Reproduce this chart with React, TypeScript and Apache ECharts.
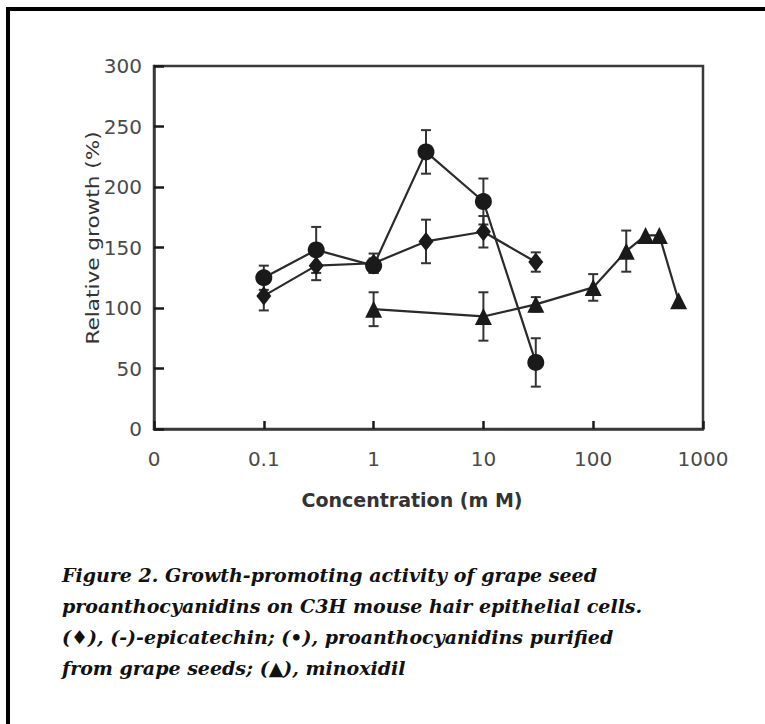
import React, { useEffect, useRef } from "react";
import * as echarts from "echarts";

// Data
const epiX = [0.1, 0.3, 1, 3, 10, 30];
const epiY = [110, 135, 137, 155, 163, 138];
const epiErr = [12, 12, 8, 18, 13, 8];

const proX = [0.1, 0.3, 1, 3, 10, 30];
const proY = [125, 148, 135, 229, 188, 55];
const proErr = [10, 19, 6, 18, 19, 20];

const minoX = [1, 10, 30, 100, 200, 300, 400, 600];
const minoY = [99, 93, 103, 117, 147, 160, 160, 106];
const minoErr = [14, 20, 6, 11, 17, 0, 0, 0];

const yTickInterval = 50;
const xAxisName = "Concentration (m M)";
const yAxisName = "Relative growth (%)";
const captionLines = [
  "Figure 2. Growth-promoting activity of grape seed",
  "proanthocyanidins on C3H mouse hair epithelial cells.",
  "(\u2666), (-)-epicatechin; (\u2022), proanthocyanidins purified",
  "from grape seeds; (\u25B2), minoxidil",
];

const INK = "#1a1a1a";
const AXIS = "#3a3a3a";

function pairs(xs: number[], ys: number[]) {
  return xs.map((x, i) => [x, ys[i]]);
}
function errData(xs: number[], ys: number[], es: number[]) {
  return xs.map((x, i) => [x, ys[i], es[i]]).filter((d) => d[2] > 0);
}

function errorSeries(data: number[][]) {
  return {
    type: "custom",
    data,
    encode: { x: 0, y: 1 },
    z: 1,
    silent: true,
    renderItem: (_params: any, api: any) => {
      const x = api.value(0);
      const y = api.value(1);
      const e = api.value(2);
      const top = api.coord([x, y + e]);
      const bot = api.coord([x, y - e]);
      const hw = 5;
      const style = { stroke: "#333", lineWidth: 2 };
      return {
        type: "group",
        children: [
          { type: "line", shape: { x1: top[0], y1: top[1], x2: bot[0], y2: bot[1] }, style },
          { type: "line", shape: { x1: top[0] - hw, y1: top[1], x2: top[0] + hw, y2: top[1] }, style },
          { type: "line", shape: { x1: bot[0] - hw, y1: bot[1], x2: bot[0] + hw, y2: bot[1] }, style },
        ],
      };
    },
  };
}

function lineSeries(name: string, data: number[][], symbol: string, size: any) {
  return {
    type: "line",
    name,
    data,
    symbol,
    symbolSize: size,
    showAllSymbol: true,
    z: 3,
    itemStyle: { color: INK, borderWidth: 0 },
    lineStyle: { color: "#2a2a2a", width: 2.2 },
  };
}

export default function App() {
  const ref = useRef<HTMLDivElement>(null);
  useEffect(() => {
    if (!ref.current) return;
    const chart = echarts.init(ref.current, undefined, { renderer: "svg" });
    const tickFont = { fontSize: 20, fontFamily: "DejaVu Sans", color: "#4a4a4a" };
    chart.setOption({
      animation: false,
      backgroundColor: "#ffffff",
      grid: {
        left: 154,
        right: 62,
        top: 66,
        bottom: 295,
        show: true,
        borderColor: AXIS,
        borderWidth: 2.5,
        backgroundColor: "transparent",
      },
      xAxis: {
        type: "log",
        logBase: 10,
        min: 0.01,
        max: 1000,
        axisLine: { show: true, lineStyle: { color: AXIS, width: 2.5 } },
        axisTick: { show: true, inside: true, length: 8, lineStyle: { color: INK, width: 2.5 } },
        minorTick: { show: false },
        splitLine: { show: false },
        axisLabel: {
          ...tickFont,
          margin: 20,
          formatter: (v: number) => (v < 0.05 ? "0" : String(Math.round(v * 1000) / 1000)),
        },
      },
      yAxis: {
        type: "value",
        min: 0,
        max: 300,
        interval: yTickInterval,
        axisLine: { show: true, lineStyle: { color: AXIS, width: 2.5 } },
        axisTick: { show: true, inside: true, length: 10, lineStyle: { color: INK, width: 2.5 } },
        splitLine: { show: false },
        axisLabel: { ...tickFont, margin: 12 },
      },
      graphic: [
        { type: "rect", shape: { x: 6, y: 7, width: 4, height: 717 }, style: { fill: "#000" } },
        { type: "rect", shape: { x: 6, y: 7, width: 759, height: 4 }, style: { fill: "#000" } },
        {
          type: "text",
          x: 93,
          y: 238,
          rotation: Math.PI / 2,
          scaleX: 1.27,
          style: {
            text: yAxisName,
            align: "center",
            verticalAlign: "middle",
            fontSize: 17,
            fontFamily: "DejaVu Sans",
            fill: "#333",
          },
        },
        {
          type: "text",
          x: 412,
          y: 500,
          style: {
            text: xAxisName,
            align: "center",
            verticalAlign: "middle",
            fontSize: 19,
            fontWeight: "bold",
            fontFamily: "DejaVu Sans",
            fill: "#333",
          },
        },
        ...captionLines.map((t, i) => ({
          type: "text",
          x: 62,
          y: 575 + i * 31,
          style: {
            text: t,
            align: "left",
            verticalAlign: "middle",
            fontSize: 19,
            fontStyle: "italic",
            fontWeight: "bold",
            fontFamily: "DejaVu Serif",
            fill: "#111",
          },
        })),
      ],
      series: [
        errorSeries(errData(epiX, epiY, epiErr)),
        errorSeries(errData(proX, proY, proErr)),
        errorSeries(errData(minoX, minoY, minoErr)),
        lineSeries("(-)-epicatechin", pairs(epiX, epiY), "diamond", [15, 19]),
        lineSeries("proanthocyanidins", pairs(proX, proY), "circle", 17),
        lineSeries("minoxidil", pairs(minoX, minoY), "triangle", 17),
      ],
    });
    return () => chart.dispose();
  }, []);
  return (
    <div
      ref={ref}
      style={{ position: "absolute", left: 0, top: 0, width: 765, height: 724, background: "#fff" }}
    />
  );
}
